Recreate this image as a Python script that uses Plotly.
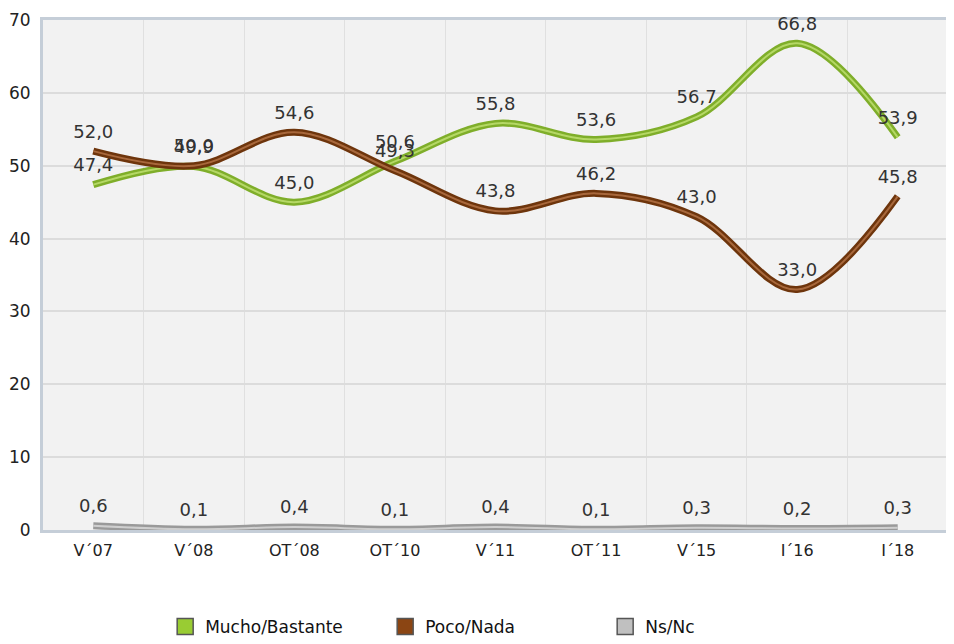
import plotly.graph_objects as go

categories = ["V´07", "V´08", "OT´08", "OT´10", "V´11", "OT´11", "V´15", "I´16", "I´18"]
mucho = [47.4, 49.9, 45.0, 50.6, 55.8, 53.6, 56.7, 66.8, 53.9]
poco = [52.0, 50.0, 54.6, 49.3, 43.8, 46.2, 43.0, 33.0, 45.8]
nsnc = [0.6, 0.1, 0.4, 0.1, 0.4, 0.1, 0.3, 0.2, 0.3]

series = [
    ("Mucho/Bastante", mucho, "#7fae2a", "#b5d866", "#99cc33"),
    ("Poco/Nada", poco, "#6e350c", "#a8683c", "#8b4513"),
    ("Ns/Nc", nsnc, "#9a9a9a", "#cfcfcf", "#c0c0c0"),
]

font_family = "DejaVu Sans, Verdana, sans-serif"
fig = go.Figure()

for name, vals, dark, light, legc in series:
    fig.add_trace(go.Scatter(
        x=categories, y=vals, mode="lines",
        line=dict(color=dark, width=7, shape="spline", smoothing=1.0),
        showlegend=False, hoverinfo="skip", cliponaxis=False))
    fig.add_trace(go.Scatter(
        x=categories, y=vals, mode="lines+markers+text",
        line=dict(color=light, width=2, shape="spline", smoothing=1.0),
        marker=dict(size=13, color="rgba(0,0,0,0)"),
        text=[f"{v:.1f}".replace(".", ",") for v in vals],
        textposition="top center",
        textfont=dict(family=font_family, size=18, color="#333333"),
        showlegend=False, cliponaxis=False))

for name, vals, dark, light, legc in series:
    fig.add_trace(go.Scatter(
        x=[None], y=[None], mode="markers", name=name,
        marker=dict(symbol="square", size=20, color=legc,
                    line=dict(color="#555555", width=1.5))))

fig.update_layout(
    width=946, height=636,
    margin=dict(l=35, r=6, t=12, b=114, autoexpand=False),
    paper_bgcolor="white",
    plot_bgcolor="#f2f2f2",
    font=dict(family=font_family, size=16, color="#222222"),
    xaxis=dict(
        type="category", range=[-0.5, 8.5], tickson="boundaries",
        showgrid=True, gridcolor="#e0e0e0", gridwidth=1,
        ticks="", showline=True, linecolor="#c5ced8", linewidth=3,
        mirror=True, ticklabelstandoff=4, layer="below traces",
        tickfont=dict(family=font_family, size=16, color="#222222"),
        fixedrange=True),
    yaxis=dict(
        range=[0, 70], dtick=10, showgrid=True, gridcolor="#dcdcdc",
        gridwidth=1.5, zeroline=False, showline=True,
        linecolor="#c5ced8", linewidth=3, mirror=True, ticks="",
        ticklabelstandoff=6, layer="below traces",
        tickfont=dict(family=font_family, size=17, color="#222222"),
        fixedrange=True),
    legend=dict(orientation="h", x=0.135, xanchor="left", y=-0.19,
                yanchor="middle", font=dict(family=font_family, size=17,
                                            color="#111111"),
                itemwidth=30, entrywidth=175, traceorder="normal"),
    separators=",.",
)

fig.write_html("out.html")
